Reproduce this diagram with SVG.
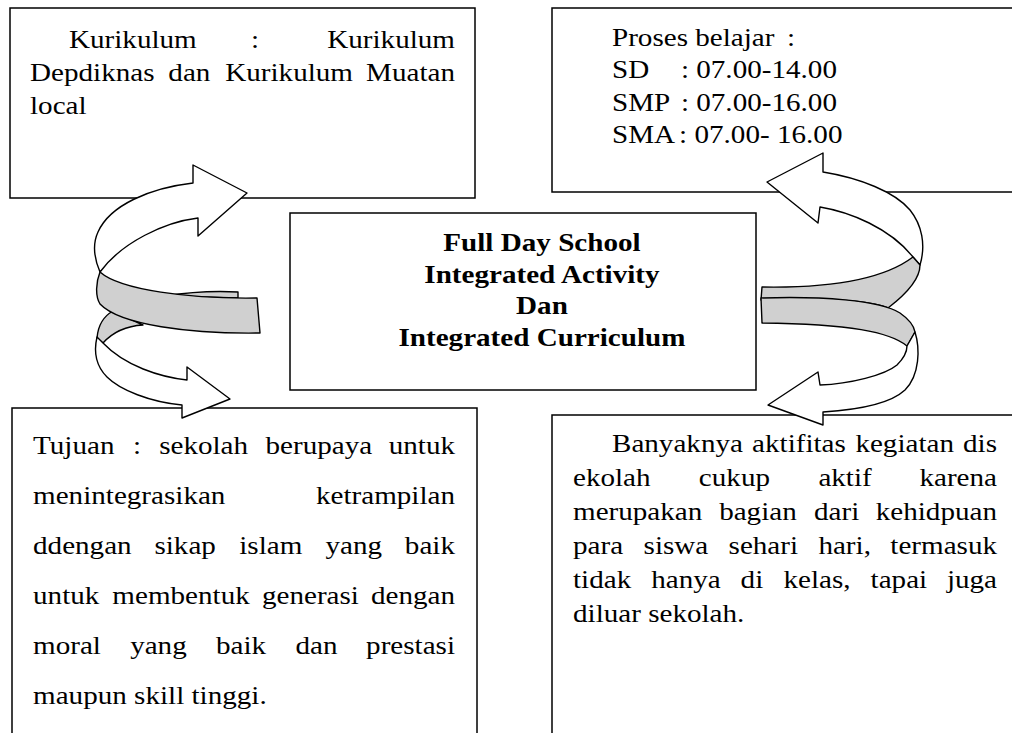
<svg xmlns="http://www.w3.org/2000/svg" width="1012" height="733" viewBox="0 0 1012 733">
<style>
.box{fill:#fff;stroke:#000;stroke-width:1.5}
.t{font-family:"Liberation Serif","Times New Roman",serif;font-size:26px;fill:#000}
.b{font-weight:bold}
.e{text-anchor:end}
.m{text-anchor:middle}
.w{fill:#fff;stroke:#000;stroke-width:1.4;stroke-linejoin:round}
.g{fill:#d0d0d0;stroke:#000;stroke-width:1.4;stroke-linejoin:round}
</style>
<rect width="1012" height="733" fill="#fff"/>

<g id="node-kurikulum">
<rect class="box" x="10" y="8" width="465" height="190"/>
<g class="t" transform="scale(1.12,1)">
<text x="61.6" y="48">Kurikulum</text><text x="224.1" y="48">:</text><text class="e" x="406.25" y="48">Kurikulum</text>
<text x="26.8" y="81">Depdiknas</text><text x="150.3" y="81">dan</text><text x="201.1" y="81">Kurikulum</text><text class="e" x="406.25" y="81">Muatan</text>
<text x="26.8" y="114">local</text>
</g>
</g>

<g id="node-proses">
<rect class="box" x="552" y="8" width="470" height="184"/>
<g class="t" transform="scale(1.12,1)">
<text x="546.4" y="46">Proses belajar</text><text x="702.7" y="46">:</text>
<text x="546.4" y="78.5">SD</text><text class="e" x="747.3" y="78.5">: 07.00-14.00</text>
<text x="546.4" y="111">SMP</text><text class="e" x="747.3" y="111">: 07.00-16.00</text>
<text x="546.4" y="143.5">SMA</text><text class="e" x="752.2" y="143.5">: 07.00- 16.00</text>
</g>
</g>

<g id="node-center">
<rect class="box" x="290" y="213" width="466" height="177"/>
<g class="t b m" transform="scale(1.12,1)">
<text x="483.9" y="251">Full Day School</text>
<text x="483.9" y="283">Integrated Activity</text>
<text x="483.9" y="314.5">Dan</text>
<text x="483.9" y="346">Integrated Curriculum</text>
</g>
</g>

<g id="node-tujuan">
<rect class="box" x="12" y="408" width="465" height="340"/>
<g class="t" transform="scale(1.12,1)">
<text x="29.5" y="454">Tujuan</text><text x="118.7" y="454">:</text><text x="142.1" y="454">sekolah</text><text x="237.1" y="454">berupaya</text><text class="e" x="406.25" y="454">untuk</text>
<text x="29.5" y="504">menintegrasikan</text><text class="e" x="406.25" y="504">ketrampilan</text>
<text x="29.5" y="554">ddengan</text><text x="137.9" y="554">sikap</text><text x="213.6" y="554">islam</text><text x="290.6" y="554">yang</text><text class="e" x="406.25" y="554">baik</text>
<text x="29.5" y="604">untuk</text><text x="100.3" y="604">membentuk</text><text x="233.9" y="604">generasi</text><text class="e" x="406.25" y="604">dengan</text>
<text x="29.5" y="654">moral</text><text x="116.2" y="654">yang</text><text x="192.9" y="654">baik</text><text x="263.8" y="654">dan</text><text class="e" x="406.25" y="654">prestasi</text>
<text x="29.5" y="704">maupun skill tinggi.</text>
</g>
</g>

<g id="node-aktifitas">
<rect class="box" x="552" y="415" width="470" height="330"/>
<g class="t" transform="scale(1.12,1)">
<text x="546.4" y="452">Banyaknya</text><text x="671.5" y="452">aktifitas</text><text x="763.75" y="452">kegiatan</text><text class="e" x="890.2" y="452">dis</text>
<text x="511.6" y="486">ekolah</text><text x="624" y="486">cukup</text><text x="730.7" y="486">aktif</text><text class="e" x="890.2" y="486">karena</text>
<text x="511.6" y="520">merupakan</text><text x="642.1" y="520">bagian</text><text x="726.8" y="520">dari</text><text class="e" x="890.2" y="520">kehidpuan</text>
<text x="511.6" y="554">para</text><text x="574.6" y="554">siswa</text><text x="650.5" y="554">sehari</text><text x="730.7" y="554">hari,</text><text class="e" x="890.2" y="554">termasuk</text>
<text x="511.6" y="588">tidak</text><text x="581.4" y="588">hanya</text><text x="661.25" y="588">di</text><text x="699.6" y="588">kelas,</text><text x="777.3" y="588">tapai</text><text class="e" x="890.2" y="588">juga</text>
<text x="511.6" y="622">diluar sekolah.</text>
</g>
</g>

<g id="connectors">
<path class="w" d="M100,272 C94,258 92,245 98,232 C110,205 150,188 193,183 L193,165 L247,193 L198,236 L198,218 C165,222 122,242 100,272 Z"/>
<path class="g" d="M113,311 C104,316 98,326 97,338 L103,343 C112,333 125,326 143,325 Z"/>
<path class="w" d="M97,337 C94,350 95,365 107,377 C120,390 150,402 182,405 L182,418 L230,399 L187,367 L187,380 C160,377 125,366 103,343 Z"/>
<path class="g" d="M165,296 C190,292 220,291 238,292 L238,298 Z"/>
<path class="g" d="M100,272 C120,290 190,299 257,298 L260,333 C190,334 120,325 100,304 C95,296 96,282 100,272 Z"/>
<path class="w" d="M920,265 C926,245 922,225 910,210 C895,192 860,178 823,172 L823,153 L767,182 L818,223 L820,207 C850,212 890,228 913,257 Z"/>
<path class="g" d="M913,257 C880,282 820,288 762,287 L761,300 C820,298 870,300 888,308 C905,295 920,280 920,265 Z"/>
<path class="g" d="M761,298 C820,296 880,300 900,313 C910,320 914,326 915,332 L907,346 C890,332 850,324 762,323 Z"/>
<path class="w" d="M915,332 C920,348 920,375 905,390 C890,404 855,410 823,412 L823,425 L768,405 L818,372 L820,385 C850,384 885,375 897,365 C904,358 907,352 907,346 Z"/>
</g>
</svg>
